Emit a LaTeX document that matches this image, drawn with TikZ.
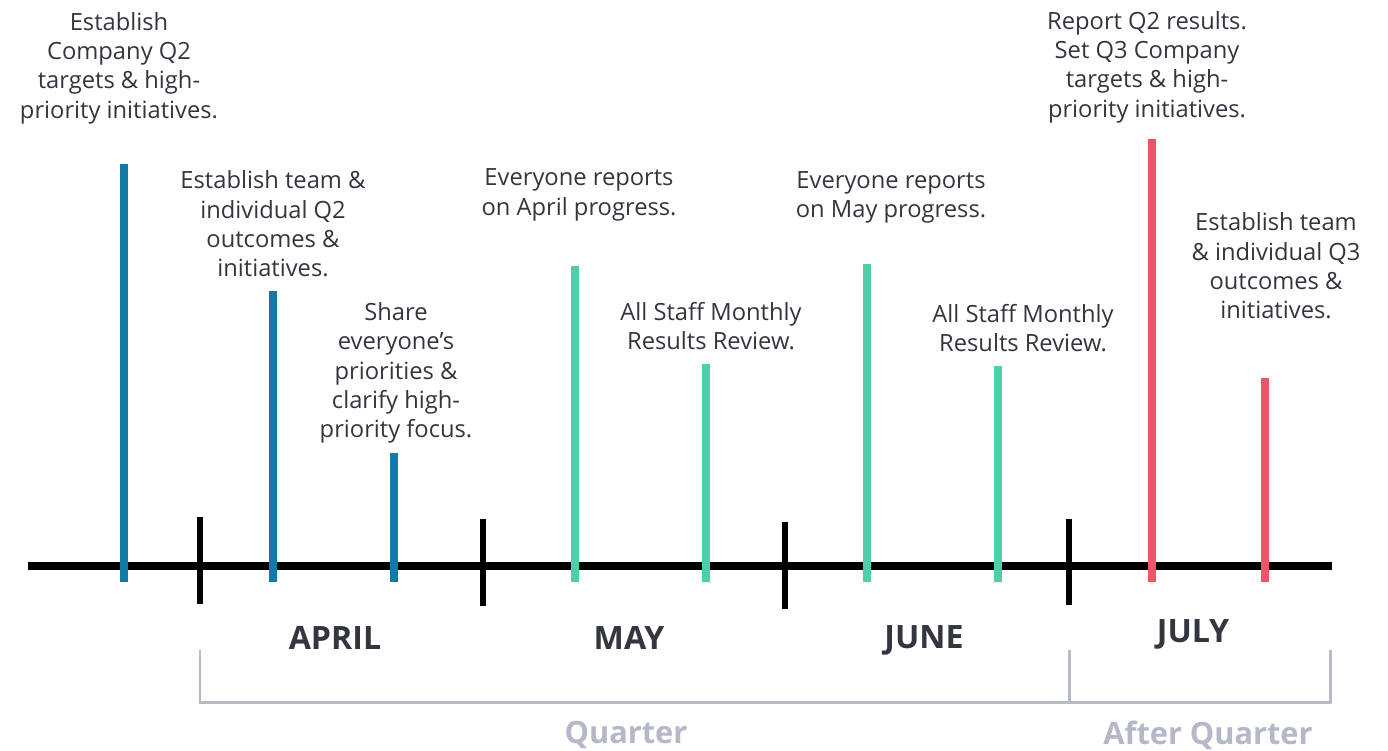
\documentclass[tikz,border=0pt]{standalone}
\usepackage{fontspec}
\setmainfont{Open Sans}
\usepackage{tikz}
\usetikzlibrary{positioning}

\definecolor{ink}{HTML}{33363F}
\definecolor{qblue}{HTML}{1479A5}
\definecolor{qteal}{HTML}{4DD0AA}
\definecolor{qred}{HTML}{EE5567}
\definecolor{rulegrey}{HTML}{B5BCC5}
\definecolor{spangrey}{HTML}{B4B8C9}

\begin{document}
\begin{tikzpicture}[x=0.02cm,y=-0.02cm,
    note/.style={align=center,inner sep=0pt,text=ink,
      font=\fontsize{13.5}{16.7}\selectfont},
    month/.style={inner sep=0pt,text=ink,
      font=\fontsize{18.3}{22}\selectfont\bfseries},
    span/.style={inner sep=0pt,text=spangrey,
      font=\fontsize{17.5}{21}\selectfont\bfseries},
    bar/.style={line width=4.5pt},
    monthtick/.style={line width=3.4pt},
    bracket/.style={rulegrey,line width=1.7pt}]
      \useasboundingbox (0,0) rectangle (1388,750);

      % the time line and the month boundaries
      \draw[line width=4pt] (28,566) -- (1332,566);
      \foreach \x/\a/\b in {200/517/604, 483/519/606, 785/522/609, 1069/519/605}
        \draw[monthtick] (\x,\a) -- (\x,\b);

      % events
      \foreach \x/\top/\col in {124/164/qblue, 273/291/qblue, 394/453/qblue,
                                575/266/qteal, 706/364/qteal, 867/264/qteal,
                                998/366/qteal, 1152/139/qred, 1265/378/qred}
        \draw[bar,\col] (\x,582) -- (\x,\top);

      \node[note] (setq2) at (119,68) {Establish\\Company Q2\\targets \& high-\\priority initiatives.};
      \node[note] (teamq2) at (273,224) {Establish team \&\\individual Q2\\outcomes \&\\initiatives.};
      \node[note] (share) at (396,373) {Share\\everyone’s\\priorities \&\\clarify high-\\priority focus.};
      \node[note] (repapr) at (579,195) {Everyone reports\\on April progress.};
      \node[note] (revapr) at (711,326) {All Staff Monthly\\Results Review.};
      \node[note] (repmay) at (891,197.5) {Everyone reports\\on May progress.};
      \node[note] (revmay) at (1023,328) {All Staff Monthly\\Results Review.};
      \node[note] (setq3) at (1147,67) {Report Q2 results.\\Set Q3 Company\\targets \& high-\\priority initiatives.};
      \node[note] (teamq3) at (1276,266) {Establish team\\\& individual Q3\\outcomes \&\\initiatives.};

      % months
      \node[month] (apr) at (335,638) {APRIL};
      \node[month] (may) at (629,638) {MAY};
      \node[month] (jun) at (924,640) {JUNE};
      \node[month] (jul) at (1193,634) {JULY};

      % quarter brackets
      \draw[bracket] (200,650) -- (200,702) -- (1330,702) -- (1330,650);
      \draw[bracket] (1069,650) -- (1069,702);
      \node[span] (qtr) at (626,735) {Quarter};
      \node[span] (after) at (1208,735) {After Quarter};
\end{tikzpicture}
\end{document}
